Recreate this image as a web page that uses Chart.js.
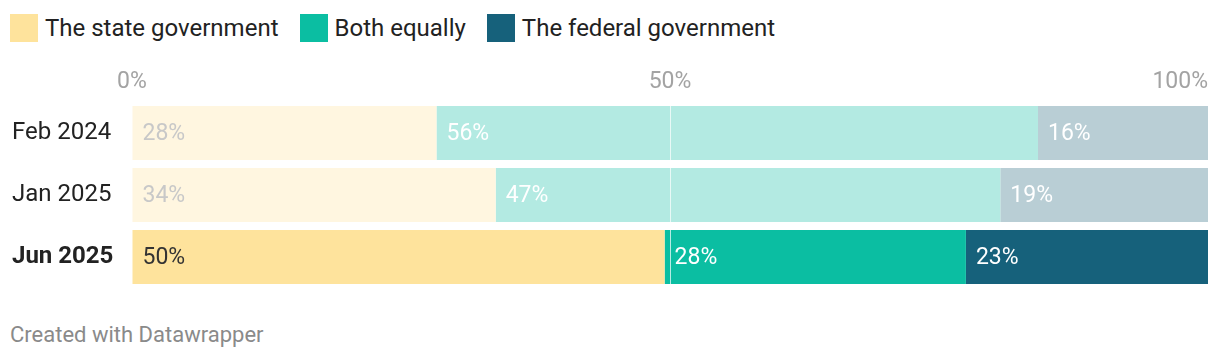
<!DOCTYPE html>
<html>
<head>
<meta charset="utf-8">
<script src="https://cdn.jsdelivr.net/npm/chart.js@4"></script>
<style>
  body { margin: 0; background: #fff; font-family: Roboto, sans-serif; }
  #legend { position: absolute; left: 10px; top: 14px; display: flex; font-size: 24px; color: #222; }
  .item { display: flex; align-items: center; margin-right: 21px; height: 28px; }
  .sw { width: 28px; height: 28px; margin-right: 7px; }
  #wrap { position: absolute; left: 0; top: 60px; width: 1220px; height: 240px; }
  #foot { position: absolute; left: 10px; top: 322px; font-size: 22px; color: #8a8a8a; }
</style>
</head>
<body>
<div id="legend"></div>
<div id="wrap"><canvas id="bar-chart"></canvas></div>
<div id="foot">Created with Datawrapper</div>
<script>
var rows = ["Feb 2024", "Jan 2025", "Jun 2025"];
var seriesNames = ["The state government", "Both equally", "The federal government"];
var stateGov = [28.3, 33.8, 49.5];
var bothEqually = [55.9, 46.9, 28];
var federalGov = [15.8, 19.3, 22.5];
var tickValues = [0, 50, 100];

var fullColors = ["#fee39c", "#0bbea2", "#16617b"];
var fadedColors = ["#fff6e0", "#b3eae2", "#b9ced5"];
var fadedText = ["#c8c8c8", "#ffffff", "#ffffff"];
var fullText = ["#333333", "#ffffff", "#ffffff"];

// legend
var legend = document.getElementById("legend");
for (let i = 0; i < seriesNames.length; i++) {
  let item = document.createElement("div");
  item.className = "item";
  item.innerHTML = '<div class="sw" style="background:' + fullColors[i] + '"></div>' + seriesNames[i];
  legend.appendChild(item);
}

function rowColors(i) {
  return rows.map(function (r, j) { return j === rows.length - 1 ? fullColors[i] : fadedColors[i]; });
}

var allValues = [stateGov, bothEqually, federalGov];

var barLabels = {
  id: "barLabels",
  afterDatasetsDraw: function (chart) {
    let ctx = chart.ctx;
    ctx.save();
    ctx.font = "23px Roboto";
    ctx.textBaseline = "middle";
    ctx.textAlign = "left";
    chart.data.datasets.forEach(function (ds, i) {
      chart.getDatasetMeta(i).data.forEach(function (bar, j) {
        ctx.fillStyle = j === rows.length - 1 ? fullText[i] : fadedText[i];
        let left = Math.min(bar.x, bar.base);
        ctx.fillText(Math.round(ds.data[j]) + "%", left + 10, bar.y + 1);
      });
    });
    // top axis labels
    let xs = chart.scales.x;
    ctx.font = "23px Roboto";
    ctx.fillStyle = "#a3a3a3";
    tickValues.forEach(function (v, k) {
      ctx.textAlign = k === tickValues.length - 1 ? "right" : "center";
      ctx.fillText(v + "%", xs.getPixelForValue(v), 22);
    });
    ctx.restore();
  }
};

new Chart(document.getElementById("bar-chart"), {
  type: "bar",
  data: {
    labels: rows,
    datasets: allValues.map(function (vals, i) {
      return {
        label: seriesNames[i],
        data: vals,
        backgroundColor: rowColors(i),
        borderWidth: 0,
        categoryPercentage: 1,
        barPercentage: 54 / 62
      };
    })
  },
  options: {
    indexAxis: "y",
    responsive: true,
    maintainAspectRatio: false,
    animation: false,
    layout: { padding: { top: 42, bottom: 12, left: 12, right: 12 } },
    plugins: { legend: { display: false }, tooltip: { enabled: false } },
    scales: {
      x: {
        stacked: true,
        position: "top",
        min: 0,
        max: 100,
        afterFit: function (scale) { scale.height = 0; scale.paddingLeft = 0; scale.paddingRight = 0; },
        ticks: { display: false, stepSize: 50 },
        border: { display: false },
        grid: {
          z: 1,
          drawTicks: false,
          lineWidth: 1,
          color: function (c) { return c.tick && c.tick.value === 50 ? "rgba(255,255,255,0.7)" : "rgba(0,0,0,0)"; }
        }
      },
      y: {
        stacked: true,
        border: { display: false },
        grid: { display: false },
        afterFit: function (scale) { scale.width = 120; scale.paddingTop = 0; scale.paddingBottom = 0; },
        ticks: {
          crossAlign: "far",
          color: "#222",
          font: function (c) {
            return { family: "Roboto", size: 24, weight: c.index === rows.length - 1 ? "bold" : "normal" };
          }
        }
      }
    }
  },
  plugins: [barLabels]
});
</script>
</body>
</html>
